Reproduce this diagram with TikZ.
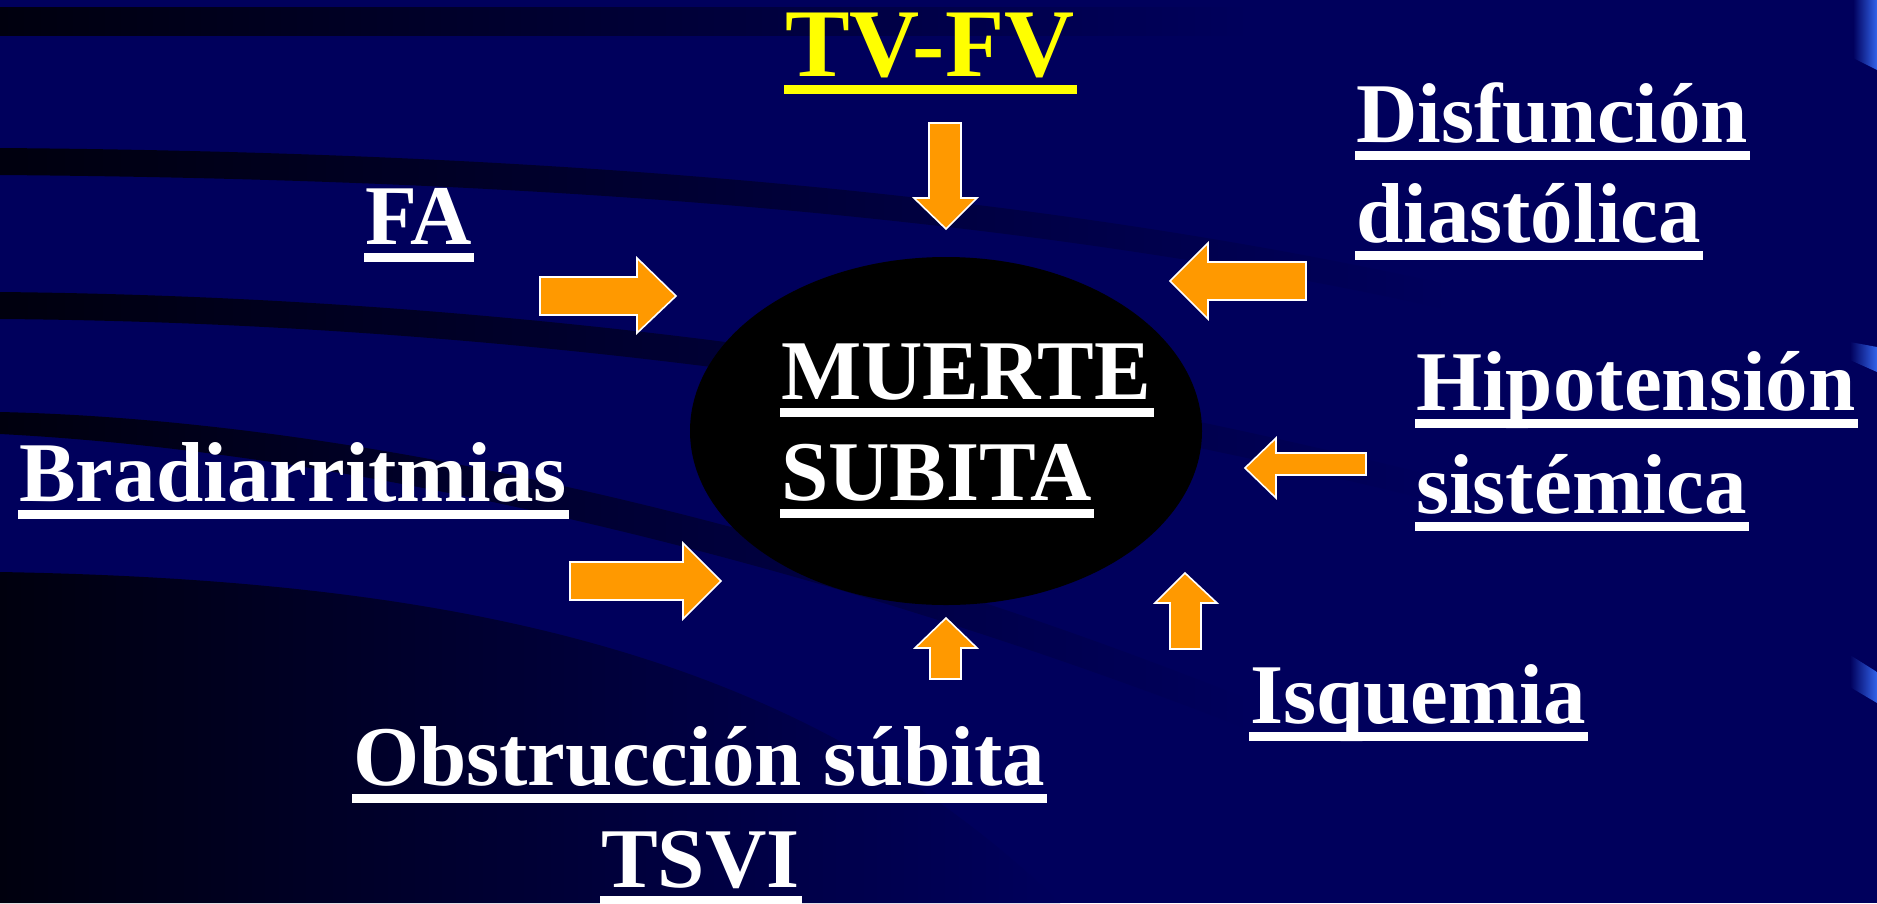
\documentclass[tikz,border=0pt]{standalone}
\usepackage{fontspec}
\setmainfont{Liberation Serif}
\usetikzlibrary{calc,shapes.geometric}
\definecolor{bg}{RGB}{0,0,92}
\definecolor{dk}{RGB}{0,0,14}
\definecolor{orng}{RGB}{255,153,0}
\definecolor{ylw}{RGB}{255,255,0}
\definecolor{lblue}{RGB}{50,100,235}
\newcommand{\ulin}[2][white]{\fill[#1] ($(#2.base west)+(-1,9)$) rectangle ($(#2.base east)+(2,18)$);}
\begin{document}
\begin{tikzpicture}[x=1pt,y=-1pt,
  lbl/.style={text=white, font=\bfseries\fontsize{85}{85}\selectfont, inner sep=0pt, anchor=base west},
  blk/.style={fill=orng, draw=white, line width=1.6pt, line join=miter},
  band/.style={left color=dk, right color=bg},
  sliver/.style={left color=bg, right color=lblue}
]
\useasboundingbox (0,0) rectangle (1877,903);
\fill[bg] (0,0) rectangle (1877,903);
% background bands
\shade[band] (0,7) rectangle (1250,35);
\shade[band] (0,148) .. controls (500,152) and (1000,185) .. (1450,285) -- (1450,310) .. controls (1000,210) and (500,179) .. (0,175) -- cycle;
\shade[band] (0,292) .. controls (400,296) and (900,340) .. (1450,480) -- (1450,505) .. controls (900,368) and (400,322) .. (0,319) -- cycle;
\shade[band] (0,412) .. controls (350,420) and (800,520) .. (1250,700) -- (1250,730) .. controls (800,555) and (350,452) .. (0,434) -- cycle;
\shade[band] (0,572) .. controls (450,580) and (800,650) .. (1060,903) -- (0,903) -- cycle;
% right slivers
\shade[sliver] (1850,342) -- (1877,347) -- (1877,372) -- (1850,360) -- cycle;
\shade[sliver] (1850,655) -- (1877,672) -- (1877,703) -- (1850,687) -- cycle;
\shade[sliver] (1853,0) -- (1877,0) -- (1877,70) -- (1853,58) -- cycle;
% central ellipse
\node[ellipse, fill=black, minimum width=512pt, minimum height=348pt, inner sep=0pt] (ms) at (946,431) {};
% block arrows
\draw[blk] (540,277) -- (637,277) -- (637,258) -- (676,296) -- (637,333) -- (637,315) -- (540,315) -- cycle;
\draw[blk] (570,562) -- (683,562) -- (683,543) -- (721,581) -- (683,619) -- (683,600) -- (570,600) -- cycle;
\draw[blk] (929,123) -- (961,123) -- (961,198) -- (977,198) -- (946,229) -- (914,198) -- (929,198) -- cycle;
\draw[blk] (1306,262) -- (1208,262) -- (1208,243) -- (1170,281) -- (1208,319) -- (1208,300) -- (1306,300) -- cycle;
\draw[blk] (1366,453) -- (1276,453) -- (1276,438) -- (1245,468) -- (1276,498) -- (1276,475) -- (1366,475) -- cycle;
\draw[blk] (930,679) -- (961,679) -- (961,648) -- (977,648) -- (946,618) -- (915,648) -- (930,648) -- cycle;
\draw[blk] (1170,649) -- (1201,649) -- (1201,603) -- (1217,603) -- (1185,573) -- (1155,603) -- (1170,603) -- cycle;
% labels
\node[lbl, text=ylw, font=\bfseries\fontsize{97}{97}\selectfont] (tv) at (785,76) {TV-FV};
\ulin[ylw]{tv}
\node[lbl] (fa) at (365,244) {FA};
\ulin{fa}
\node[lbl] (dis) at (1356,142) {Disfunción};
\ulin{dis}
\node[lbl] (dia) at (1356,242) {diastólica};
\ulin{dia}
\node[lbl] (hip) at (1416,410) {Hipotensión};
\ulin{hip}
\node[lbl] (sis) at (1416,513) {sistémica};
\ulin{sis}
\node[lbl] (bra) at (19,501) {Bradiarritmias};
\ulin{bra}
\node[lbl] (mu) at (781,399) {MUERTE};
\ulin{mu}
\node[lbl] (su) at (781,500) {SUBITA};
\ulin{su}
\node[lbl] (isq) at (1250,723) {Isquemia};
\ulin{isq}
\node[lbl] (obs) at (353,785) {Obstrucción súbita};
\ulin{obs}
\node[lbl] (tsv) at (601,887) {TSVI};
\ulin{tsv}
\end{tikzpicture}
\end{document}
